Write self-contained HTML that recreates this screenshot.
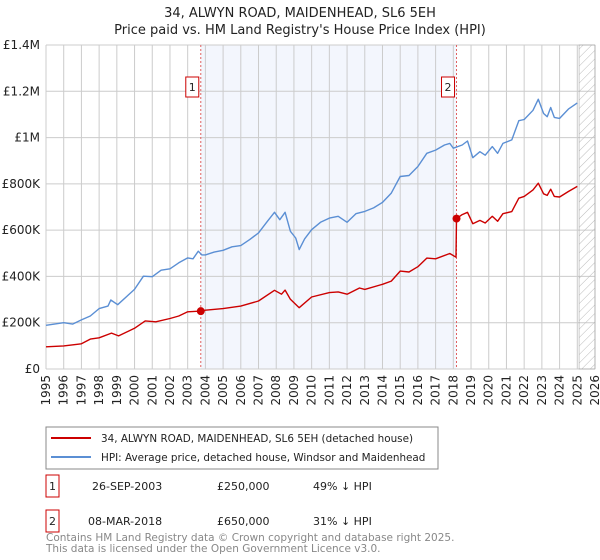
<!DOCTYPE html>
<html><head><meta charset="utf-8"><style>
body{margin:0;background:#fff;width:600px;height:560px;overflow:hidden;font-family:"Liberation Sans","DejaVu Sans",sans-serif}
svg{display:block}
</style></head><body>
<svg id="chart" width="600" height="560" xmlns="http://www.w3.org/2000/svg" font-family="DejaVu Sans, Liberation Sans, sans-serif">
<text x="300" y="17" text-anchor="middle" font-size="13" fill="#222">34, ALWYN ROAD, MAIDENHEAD, SL6 5EH</text>
<text x="300" y="34" text-anchor="middle" font-size="13" fill="#222">Price paid vs. HM Land Registry's House Price Index (HPI)</text>
<g id="plot"></g>
<g>
<rect x="46" y="427" width="392" height="42" fill="#fff" stroke="#888"/>
<line x1="51" y1="438" x2="91" y2="438" stroke="#cc0000" stroke-width="2"/>
<text x="101" y="442" font-size="10.4" fill="#222">34, ALWYN ROAD, MAIDENHEAD, SL6 5EH (detached house)</text>
<line x1="51" y1="457" x2="91" y2="457" stroke="#5b8fd4" stroke-width="2"/>
<text x="101" y="461" font-size="10.4" fill="#222">HPI: Average price, detached house, Windsor and Maidenhead</text>
</g>
<g font-size="11" fill="#222">
<rect x="46" y="475" width="13" height="22" fill="#fff" stroke="#cc0000"/>
<text x="52.5" y="490" text-anchor="middle">1</text>
<text x="92" y="490">26-SEP-2003</text>
<text x="217" y="490">£250,000</text>
<text x="313" y="490">49% ↓ HPI</text>
<rect x="46" y="510" width="13" height="22" fill="#fff" stroke="#cc0000"/>
<text x="52.5" y="525" text-anchor="middle">2</text>
<text x="88" y="525">08-MAR-2018</text>
<text x="217" y="525">£650,000</text>
<text x="313" y="525">31% ↓ HPI</text>
</g>
<text x="46" y="541" font-size="10.5" fill="#888">Contains HM Land Registry data © Crown copyright and database right 2025.</text>
<text x="46" y="552" font-size="10.5" fill="#888">This data is licensed under the Open Government Licence v3.0.</text>
</svg>
<script>
const hpiYears=[1995,1996,1996.5,1997,1997.5,1998,1998.5,1998.66,1999.05,2000,2000.5,2001,2001.5,2002,2002.5,2003,2003.3,2003.6,2003.8,2004,2004.5,2005,2005.5,2006,2006.5,2007,2007.5,2007.9,2008.2,2008.5,2008.8,2009.1,2009.3,2009.6,2010,2010.5,2011,2011.5,2012,2012.5,2013,2013.5,2014,2014.5,2015,2015.5,2016,2016.5,2017,2017.5,2017.8,2018,2018.5,2018.8,2019.1,2019.5,2019.8,2020.2,2020.5,2020.8,2021.3,2021.7,2022,2022.5,2022.8,2023.1,2023.3,2023.5,2023.7,2024,2024.5,2025];
const hpiValues=[189,200,194,212,229,261,272,298,278,344,401,399,427,433,459,480,476,509,493,493,505,513,528,533,559,588,638,677,645,677,595,566,516,562,602,634,652,660,634,671,681,696,720,760,832,836,875,932,946,968,975,954,968,985,913,939,924,961,932,975,990,1073,1078,1118,1166,1104,1090,1130,1087,1083,1123,1150];
const propYears=[1995,1996,1997,1997.5,1998,1998.7,1999.1,2000,2000.6,2001.2,2002,2002.5,2003,2003.74,2004,2005,2006,2007,2007.9,2008.3,2008.5,2008.8,2009.3,2010,2011,2011.5,2012,2012.7,2013,2014,2014.5,2015,2015.5,2016,2016.5,2017,2017.8,2018.15,2018.18,2018.5,2018.8,2019.1,2019.5,2019.8,2020.2,2020.5,2020.8,2021.3,2021.7,2022,2022.5,2022.8,2023.1,2023.3,2023.5,2023.7,2024,2024.5,2025];
const propValues=[96,100,109,129,135,155,143,176,208,204,218,229,247,250,254,261,272,294,340,323,341,301,265,311,330,333,323,350,344,366,380,423,419,442,479,476,499,483,650,667,677,628,642,631,660,638,671,680,738,746,774,803,757,750,777,746,743,767,789];
const saleYears=[2003.74,2018.18];
const saleValues=[250,650];
const saleLabels=["1","2"];
const yTicks=[0,200,400,600,800,1000,1200,1400];
const yTickLabels=["£0","£200K","£400K","£600K","£800K","£1M","£1.2M","£1.4M"];
const xTicks=[1995,1996,1997,1998,1999,2000,2001,2002,2003,2004,2005,2006,2007,2008,2009,2010,2011,2012,2013,2014,2015,2016,2017,2018,2019,2020,2021,2022,2023,2024,2025,2026];

const X0=46,X1=595,Y0=369,Y1=45;
const xs=y=>X0+(y-1995)/31*(X1-X0);
const ys=v=>Y0-v/1400*(Y0-Y1);
const NS="http://www.w3.org/2000/svg";
const plot=document.getElementById('plot');
function mk(tag,attrs,parent){const e=document.createElementNS(NS,tag);for(const k in attrs)e.setAttribute(k,attrs[k]);(parent||plot).appendChild(e);return e;}

let e=mk('rect',{x:xs(saleYears[0]),y:Y1,width:xs(saleYears[1])-xs(saleYears[0]),height:Y0-Y1,fill:'#f3f6fd'});


yTicks.forEach((t,i)=>{
  let g=mk('line',{x1:X0,x2:X1,y1:ys(t),y2:ys(t),stroke:'#ccc','stroke-width':1});
  
  
  let l=mk('text',{x:X0-6,y:ys(t)+4,'text-anchor':'end','font-size':12,fill:'#222'});
  l.textContent=yTickLabels[i];
  
  
});
xTicks.forEach(t=>{
  let g=mk('line',{x1:xs(t),x2:xs(t),y1:Y1,y2:Y0,stroke:'#ccc','stroke-width':1});
  
  
  let l=mk('text',{x:0,y:0,'text-anchor':'end','font-size':12,fill:'#222',transform:`translate(${xs(t)+4},${Y0+6}) rotate(-90)`});
  l.textContent=t;
  
  
});
const defs=mk('defs',{});
const pat=mk('pattern',{id:'hatch',width:6,height:6,patternUnits:'userSpaceOnUse',patternTransform:'rotate(45)'},defs);
mk('line',{x1:0,y1:0,x2:0,y2:6,stroke:'#bbb','stroke-width':1},pat);
e=mk('rect',{x:xs(2025.1),y:Y1,width:X1-xs(2025.1),height:Y0-Y1,fill:'url(#hatch)',stroke:'#999','stroke-width':0.5});


e=mk('line',{x1:X0,x2:X0,y1:Y1,y2:Y0,stroke:'#ccc'});



saleYears.forEach((y,i)=>{
  let d=mk('line',{x1:xs(y),x2:xs(y),y1:Y1,y2:Y0,stroke:'#e06060','stroke-width':1,'stroke-dasharray':'2,2'});
  
  
});
function path(xa,va,color,name){
  const p=mk('path',{d:xa.map((x,i)=>(i?'L':'M')+xs(x).toFixed(1)+','+ys(va[i]).toFixed(1)).join(''),fill:'none',stroke:color,'stroke-width':1.4,'stroke-linejoin':'round'});
  
  
}
path(hpiYears,hpiValues,'#5b8fd4','hpi-line');
path(propYears,propValues,'#cc0000','property-price-line');
saleYears.forEach((y,i)=>{
  let c=mk('circle',{cx:xs(y),cy:ys(saleValues[i]),r:4,fill:'#cc0000'});
  
  
  let r=mk('rect',{x:xs(y)-15,y:77,width:13,height:20,fill:'#fff',stroke:'#cc0000'});
  
  
  let t=mk('text',{x:xs(y)-8.5,y:91,'text-anchor':'middle','font-size':11,fill:'#222'});
  t.textContent=saleLabels[i];
  
  
});
</script>
</body></html>
